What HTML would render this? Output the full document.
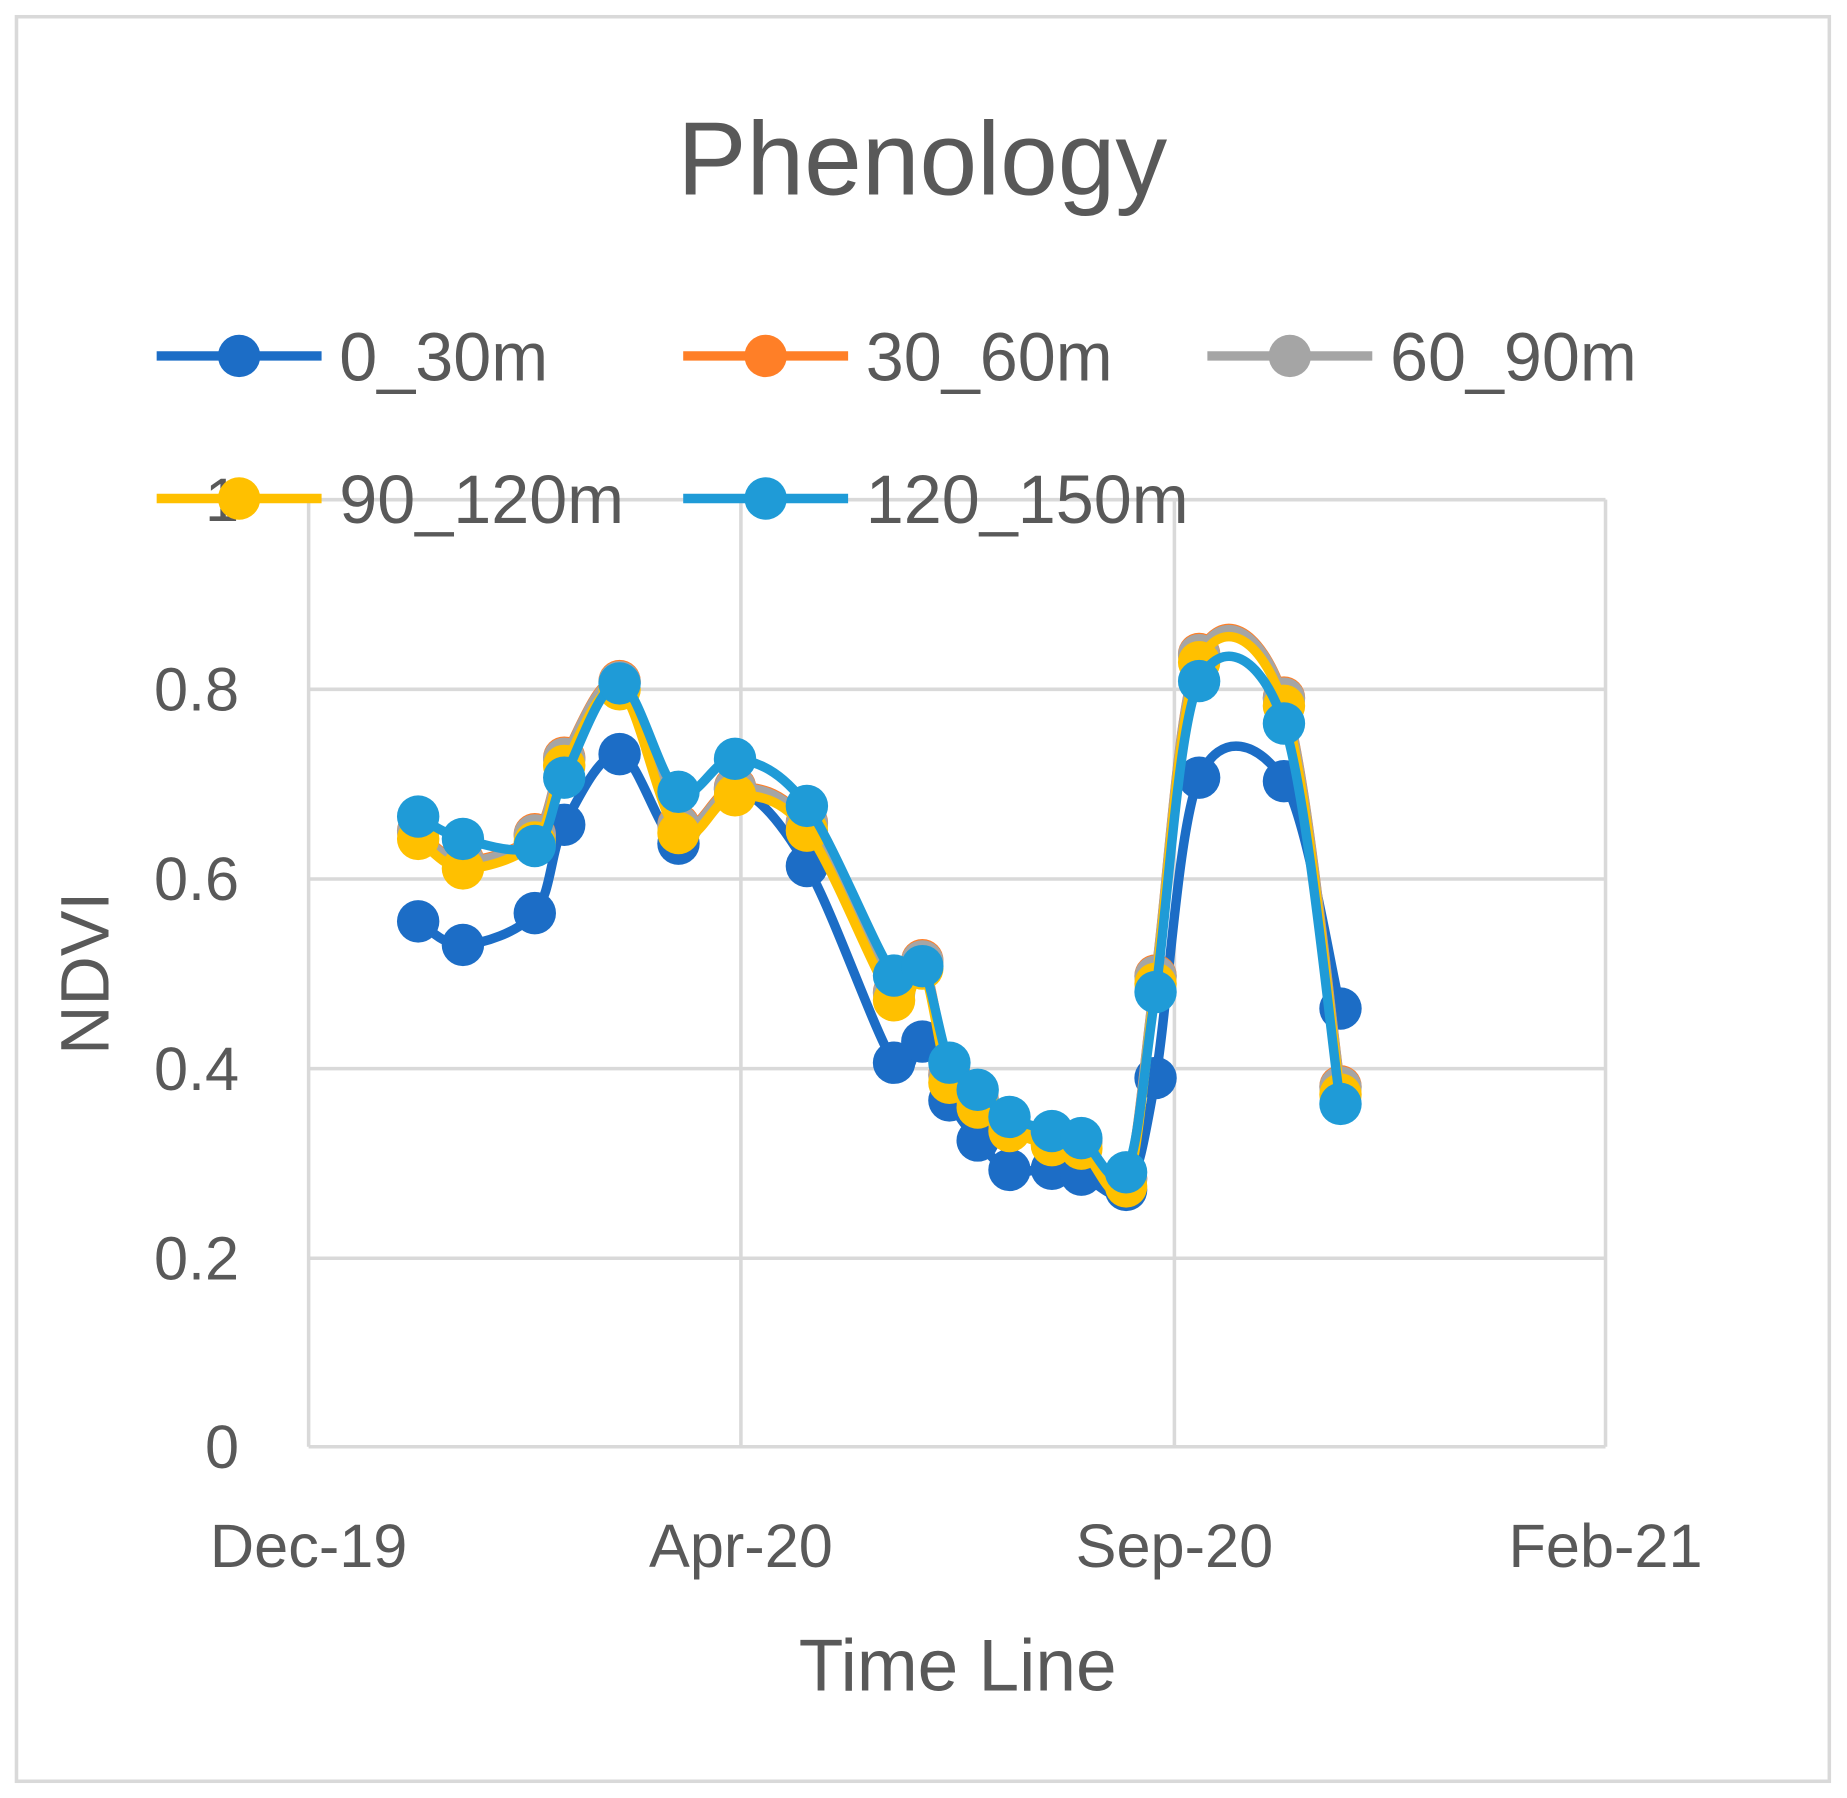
<!DOCTYPE html>
<html><head><meta charset="utf-8"><style>html,body{margin:0;padding:0;background:#fff}svg{display:block}</style></head>
<body>
<svg id="s" width="1847" height="1798" viewBox="0 0 1568 1526" xmlns="http://www.w3.org/2000/svg" font-family="Liberation Sans, sans-serif">
<rect x="0" y="0" width="1568" height="1526" fill="#fff"/>
<rect x="14" y="14" width="1539" height="1498" fill="#fff" stroke="#d9d9d9" stroke-width="3"/>
<g stroke="#d9d9d9" stroke-width="3">
<line x1="262" y1="424" x2="1363" y2="424"/><line x1="262" y1="585" x2="1363" y2="585"/>
<line x1="262" y1="746" x2="1363" y2="746"/><line x1="262" y1="907" x2="1363" y2="907"/>
<line x1="262" y1="1068" x2="1363" y2="1068"/><line x1="262" y1="1228" x2="1363" y2="1228"/>
<line x1="262" y1="424" x2="262" y2="1228"/><line x1="629" y1="424" x2="629" y2="1228"/>
<line x1="997" y1="424" x2="997" y2="1228"/><line x1="1363" y1="424" x2="1363" y2="1228"/>
</g>
<g fill="#595959" font-size="52" text-anchor="end">
<text x="203" y="442">1</text><text x="203" y="603">0.8</text><text x="203" y="764">0.6</text>
<text x="203" y="925">0.4</text><text x="203" y="1086">0.2</text><text x="203" y="1246">0</text>
</g>
<g fill="#595959" font-size="52" text-anchor="middle">
<text x="262" y="1330">Dec-19</text><text x="629" y="1330">Apr-20</text>
<text x="997" y="1330">Sep-20</text><text x="1363" y="1330">Feb-21</text>
<text x="813" y="1435" font-size="62">Time Line</text>
<text x="783" y="165" font-size="88">Phenology</text>
<text transform="translate(92,826) rotate(-90)" font-size="58">NDVI</text>
</g>
<g id="series"></g>
<g id="legend" font-size="58" fill="#595959"></g>
</svg>
<script>
var X=[355,393,454,479,526,576,624,685,759,783,806,830,857,893,918,956,981,1018,1090,1138];
var O=[705,730,708,643,578,700,668,698,842,815,912,933,953,965,968,1000,828,555,592,922];
var S=[
 ["#1C6DC6",[782,802,775,700,640,716,670,735,902,884,934,968,993,992,997,1010,915,660,663,856]],
 ["#FF7F27",O],
 ["#A5A5A5",O.map(function(v,i){return v+1})],
 ["#FFC000",O.map(function(v,i){return v+7})],
 ["#1F9BD7",[693,712,718,660,580,672,644,684,828,820,902,925,948,960,966,995,842,578,614,937]]
];
var ns="http://www.w3.org/2000/svg",g=document.getElementById("series");
function path(xs,ys){var d="M"+xs[0]+","+ys[0];for(var i=0;i<xs.length-1;i++){var p0=i?i-1:i,p3=i+2<xs.length?i+2:i+1;var t=6;
var c1x=xs[i]+(xs[i+1]-xs[p0])/t,c1y=ys[i]+(ys[i+1]-ys[p0])/t,c2x=xs[i+1]-(xs[p3]-xs[i])/t,c2y=ys[i+1]-(ys[p3]-ys[i])/t;
d+=" C"+c1x+","+c1y+" "+c2x+","+c2y+" "+xs[i+1]+","+ys[i+1];}return d;}
S.forEach(function(s){var p=document.createElementNS(ns,"path");p.setAttribute("d",path(X,s[1]));p.setAttribute("fill","none");p.setAttribute("stroke",s[0]);p.setAttribute("stroke-width","8");g.appendChild(p);
X.forEach(function(x,i){var c=document.createElementNS(ns,"circle");c.setAttribute("cx",x);c.setAttribute("cy",s[1][i]);c.setAttribute("r","18");c.setAttribute("fill",s[0]);g.appendChild(c);});});
var L=[["0_30m",133,302,0],["30_60m",580,302,1],["60_90m",1025,302,2],["90_120m",133,423,3],["120_150m",580,423,4]],lg=document.getElementById("legend");
L.forEach(function(l){var col=S[l[3]][0];var ln=document.createElementNS(ns,"line");ln.setAttribute("x1",l[1]);ln.setAttribute("x2",l[1]+140);ln.setAttribute("y1",l[2]);ln.setAttribute("y2",l[2]);ln.setAttribute("stroke",col);ln.setAttribute("stroke-width","8");lg.appendChild(ln);
var c=document.createElementNS(ns,"circle");c.setAttribute("cx",l[1]+70);c.setAttribute("cy",l[2]);c.setAttribute("r","18");c.setAttribute("fill",col);lg.appendChild(c);
var t=document.createElementNS(ns,"text");t.setAttribute("x",l[1]+155);t.setAttribute("y",l[2]+21);t.textContent=l[0];lg.appendChild(t);});
</script>
</body></html>
